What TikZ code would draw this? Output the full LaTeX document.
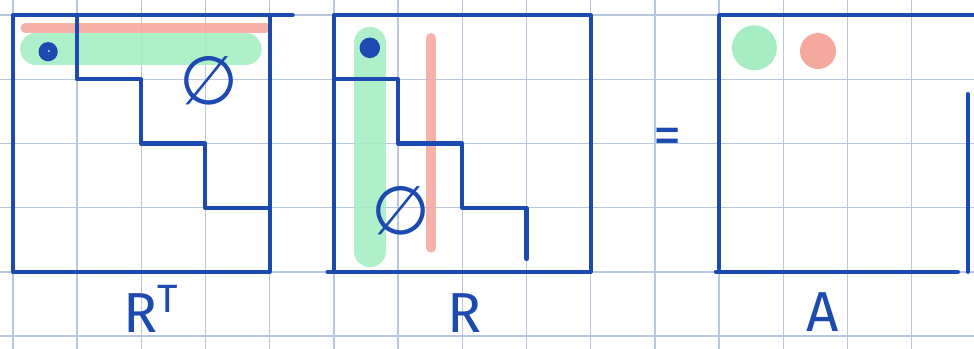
\documentclass[tikz,border=0pt]{standalone}
\usepackage{fontspec}
\setmainfont{Fira Sans}
\newfontfamily\symfont{DejaVu Sans}
\usepackage{xcolor}
\usepackage{tikz}
\usetikzlibrary{positioning}

\definecolor{ink}{HTML}{1D4AB0}
\definecolor{gridblue}{HTML}{B8C6DE}
\definecolor{hlgreen}{HTML}{A6EDC3}
\definecolor{hlred}{HTML}{F5A89E}

\begin{document}
\begin{tikzpicture}[>=stealth,
    pen/.style={draw=ink, line width=1.8pt, line cap=round, line join=round},
    hlg/.style={draw=hlgreen, line width=14pt, line cap=round, opacity=0.9},
    hlr/.style={draw=hlred, line width=4.6pt, line cap=round, opacity=0.9},
    lbl/.style={text=ink, font=\fontsize{25}{30}\selectfont, inner sep=0pt},
    nul/.style={text=ink, font=\symfont\fontsize{30}{32}\selectfont, inner sep=0pt}]
    \useasboundingbox (0,0) rectangle (15.17,5.435);

    % Nền giấy kẻ ô
    \foreach \x in {0,...,14}
        \draw[gridblue, line width=0.6pt] ({\x+0.2},0) -- ({\x+0.2},5.435);
    \foreach \y in {0,...,5}
        \draw[gridblue, line width=0.6pt] (0,{\y+0.2}) -- (15.17,{\y+0.2});

    % Các vạch tô màu (hàng của R^T, cột của R)
    \draw[hlg] (0.56,4.67) -- (3.83,4.67);
    \draw[hlr] (0.40,5.00) -- (4.14,5.00);
    \draw[hlg] (5.76,4.77) -- (5.76,1.52);
    \draw[hlr] (6.71,4.84) -- (6.71,1.58);

    % Ma trận R^T
    \draw[pen] (0.2,1.2) rectangle (4.2,5.2);
    \draw[pen] (4.2,5.2) -- (4.56,5.2);
    \draw[pen] (1.2,5.2) -- (1.2,4.2) -- (2.2,4.2) -- (2.2,3.2)
        -- (3.2,3.2) -- (3.2,2.2) -- (4.2,2.2);
    \fill[ink] (0.75,4.63) circle (0.15);
    \fill[white] (0.76,4.64) circle (0.015);
    \node[nul] (nulRT) at (3.25,4.17) {∅};
    \node[lbl, anchor=base] (lblRT) at (2.35,0.25) {R\textsuperscript{T}};

    % Ma trận R
    \draw[pen] (5.2,1.2) rectangle (9.2,5.2);
    \draw[pen] (5.1,1.2) -- (5.2,1.2);
    \draw[pen] (5.2,4.2) -- (6.2,4.2) -- (6.2,3.2) -- (7.2,3.2)
        -- (7.2,2.2) -- (8.2,2.2) -- (8.2,1.4);
    \fill[ink] (5.76,4.69) circle (0.16);
    \node[nul] (nulR) at (6.25,2.15) {∅};
    \node[lbl, anchor=base] (lblR) at (7.23,0.26) {R};

    % Dấu bằng
    \node[lbl] (eq) at (10.4,3.24) {=};

    % Ma trận A
    \draw[pen] (11.2,1.25) -- (11.2,5.2) -- (15.17,5.2);
    \draw[pen] (11.15,1.2) -- (14.92,1.2);
    \draw[pen] (15.07,1.2) -- (15.07,3.97);
    \fill[hlgreen] (11.75,4.69) circle (0.35);
    \fill[hlred] (12.74,4.64) circle (0.28);
    \node[lbl, anchor=base] (lblA) at (12.81,0.27) {A};
\end{tikzpicture}
\end{document}
